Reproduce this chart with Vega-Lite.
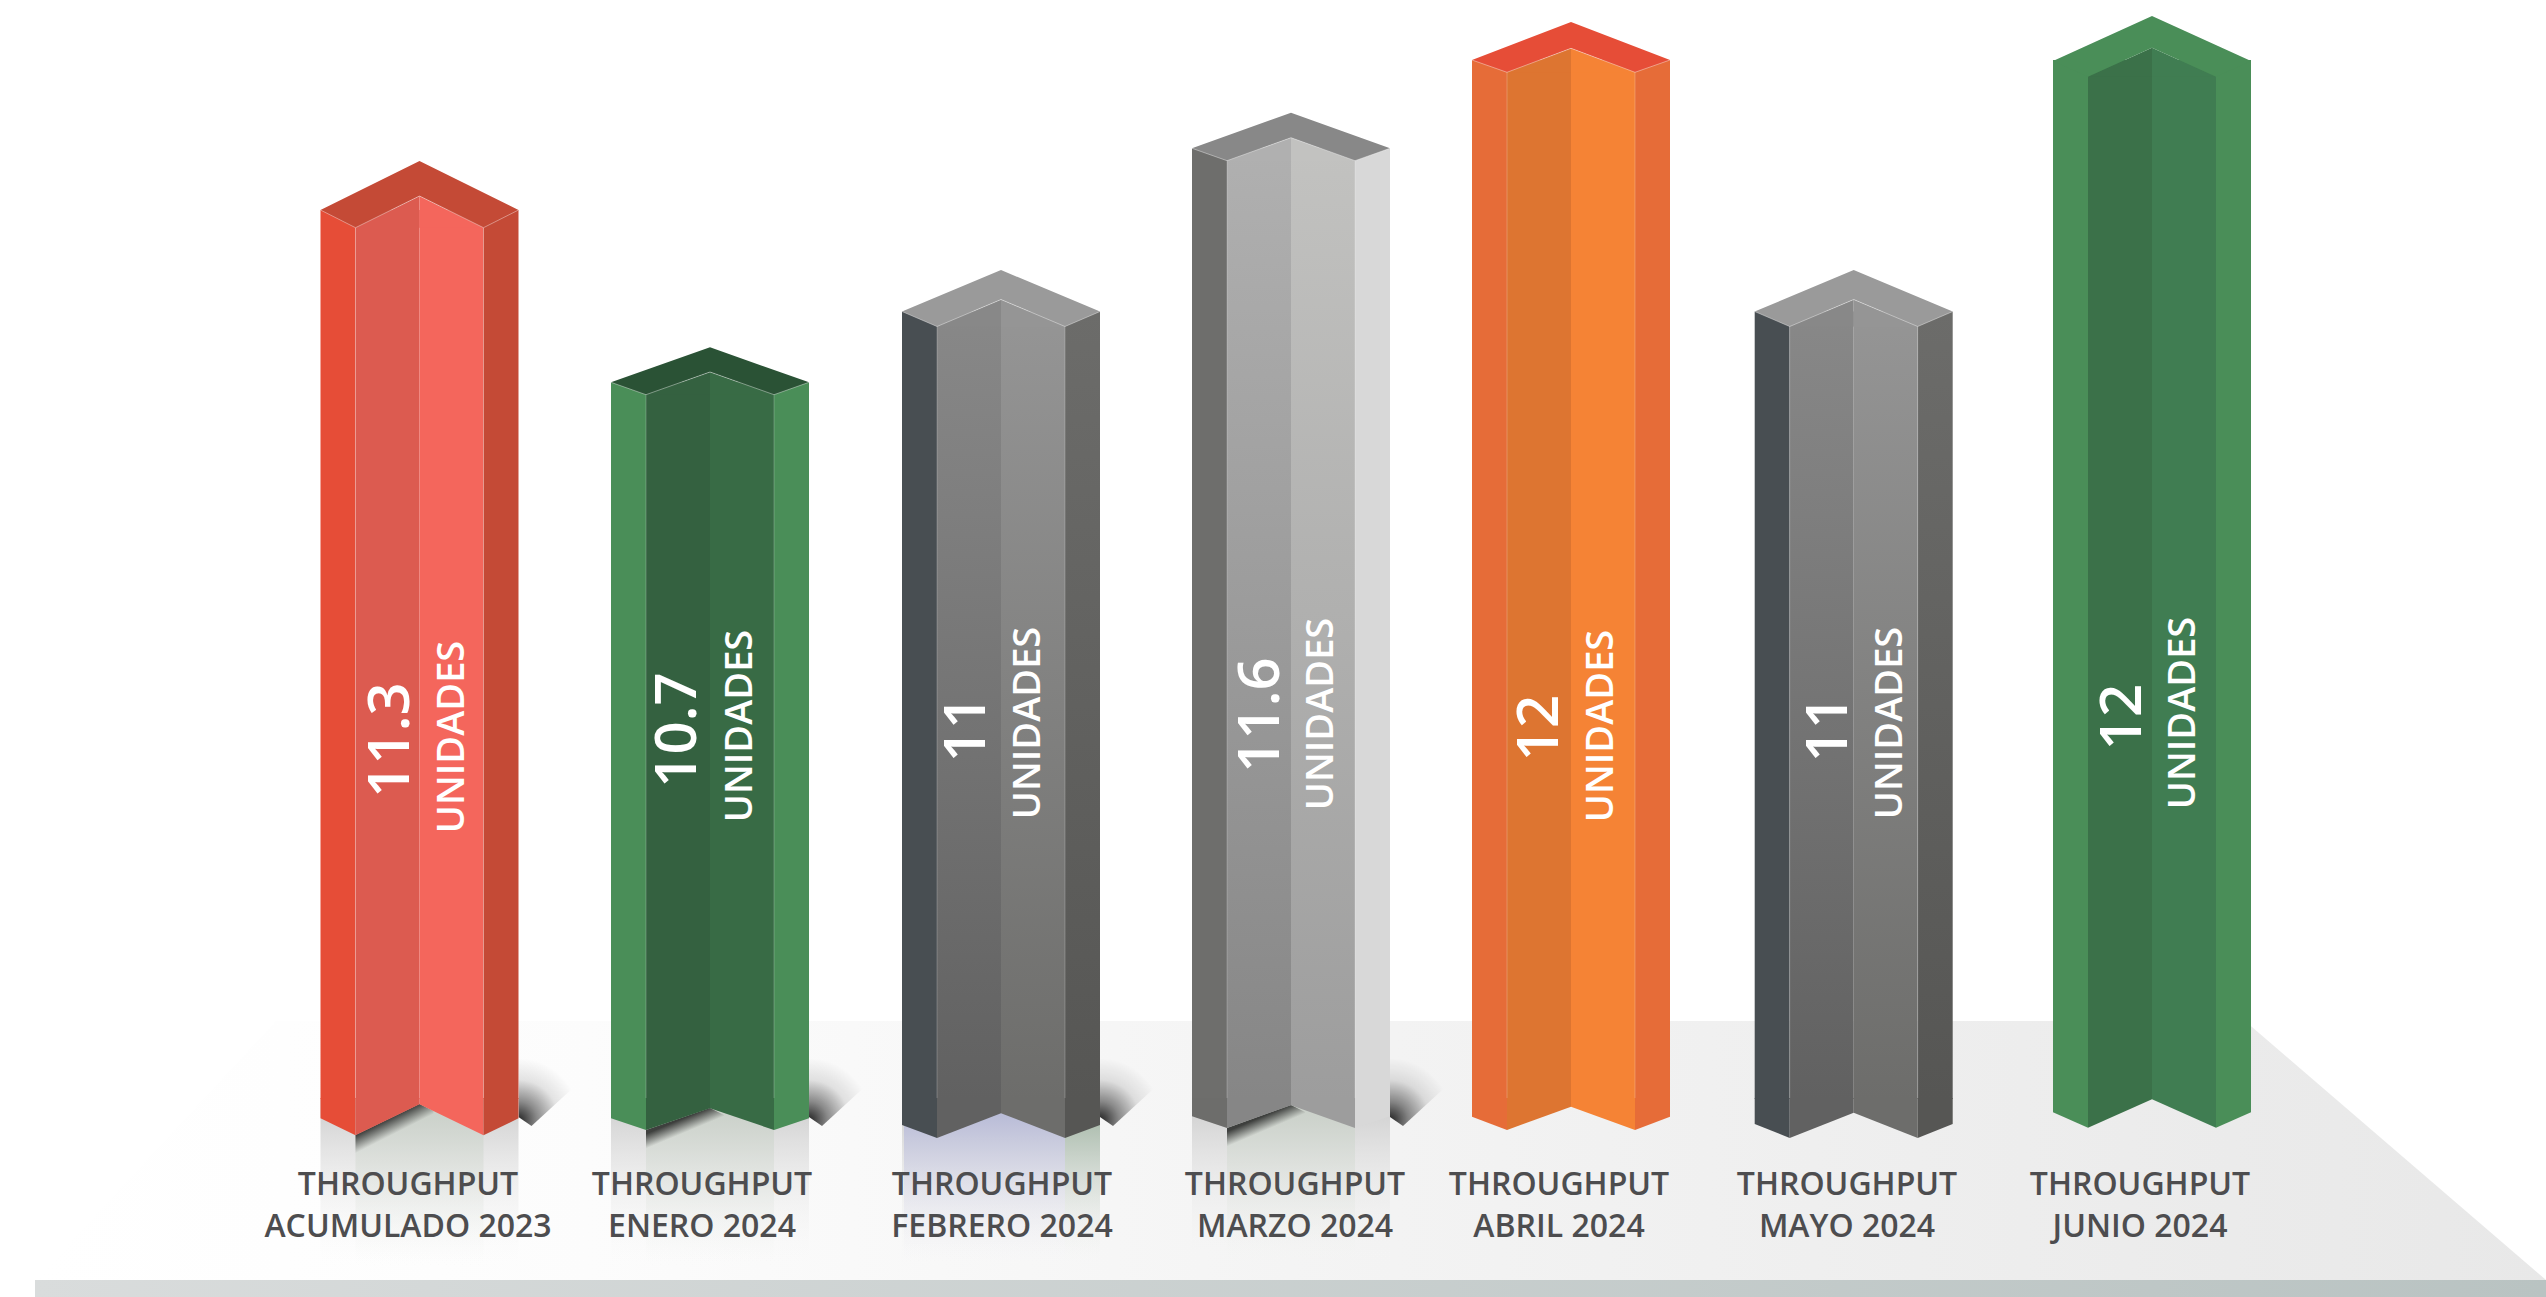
{"$schema":"https://vega.github.io/schema/vega-lite/v6.json","width":2546,"height":1297,"padding":0,"autosize":{"type":"none"},"background":"#ffffff","config":{"view":{"stroke":null}},
"data":{"values":[
{"orden":1,"periodo":"ACUMULADO 2023","unidades":11.3,"etiqueta":"THROUGHPUT\nACUMULADO 2023"},
{"orden":2,"periodo":"ENERO 2024","unidades":10.7,"etiqueta":"THROUGHPUT\nENERO 2024"},
{"orden":3,"periodo":"FEBRERO 2024","unidades":11,"etiqueta":"THROUGHPUT\nFEBRERO 2024"},
{"orden":4,"periodo":"MARZO 2024","unidades":11.6,"etiqueta":"THROUGHPUT\nMARZO 2024"},
{"orden":5,"periodo":"ABRIL 2024","unidades":12,"etiqueta":"THROUGHPUT\nABRIL 2024"},
{"orden":6,"periodo":"MAYO 2024","unidades":11,"etiqueta":"THROUGHPUT\nMAYO 2024"},
{"orden":7,"periodo":"JUNIO 2024","unidades":12,"etiqueta":"THROUGHPUT\nJUNIO 2024"}]},
"resolve":{"scale":{"x":"independent","y":"independent"}},
"layer":[
{"resolve":{"scale":{"shape":"independent","fill":"independent"}},
"encoding":{"x":{"field":"orden","type":"quantitative","axis":null,"scale":{"domain":[1,2,3,4,5,6,7],"range":[419.5,710,1001,1291,1571,1853.7,2152],"nice":false,"zero":false,"padding":0}},
"y":{"field":"unidades","type":"quantitative","axis":null,"scale":{"domain":[0,10.7,11,11.3,11.6,12],"range":[1099,382.3,311.5,210,148.3,60],"nice":false,"zero":false}}},
"layer":[
{"transform":[{"filter":"datum.orden==4"}],"mark":{"type":"point","shape":"M-1015,-78L954,-78L1255,181L-1256,181Z","size":4,"filled":true,"opacity":1,"strokeWidth":0,"fill":{"gradient":"linear","x1":0,"y1":0,"x2":1,"y2":0,"stops":[{"offset":0,"color":"#ffffff"},{"offset":0.1,"color":"#fefefe"},{"offset":0.22,"color":"#fcfcfc"},{"offset":0.5,"color":"#f4f4f4"},{"offset":1,"color":"#e8e8e8"}]}},"encoding":{"y":{"datum":0,"type":"quantitative"}}},
{"transform":[{"filter":"datum.orden==4"}],"mark":{"type":"point","shape":"M-1256,181L1255,181L1255,198L-1256,198Z","size":4,"filled":true,"opacity":1,"strokeWidth":0,"fill":{"gradient":"linear","x1":0,"y1":0,"x2":1,"y2":0,"stops":[{"offset":0,"color":"#d9dcdc"},{"offset":1,"color":"#b9c3c2"}]}},"encoding":{"y":{"datum":0,"type":"quantitative"}}},
{"transform":[{"filter":"datum.orden<=4"}],"mark":{"type":"point","shape":"M-99,0L99,0L99,166L-99,166Z","size":4,"filled":true,"opacity":1,"strokeWidth":0,"fill":{"gradient":"linear","x1":0,"y1":0,"x2":0,"y2":1,"stops":[{"offset":0.1,"color":"rgba(212,212,212,1)"},{"offset":1,"color":"rgba(248,248,248,0)"}]}},"encoding":{"y":{"datum":0,"type":"quantitative"}}},
{"transform":[{"filter":"datum.orden==1||datum.orden==2||datum.orden==4"}],"mark":{"type":"point","shape":"M-64,0L64,0L64,166L-64,166Z","size":4,"filled":true,"opacity":1,"strokeWidth":0,"fill":{"gradient":"linear","x1":0,"y1":0,"x2":0,"y2":1,"stops":[{"offset":0.1,"color":"rgba(204,210,203,1)"},{"offset":1,"color":"rgba(244,246,243,0)"}]}},"encoding":{"y":{"datum":0,"type":"quantitative"}}},
{"transform":[{"filter":"datum.orden==3"}],"mark":{"type":"point","shape":"M-97,0L64,0L64,166L-97,166Z","size":4,"filled":true,"opacity":1,"strokeWidth":0,"fill":{"gradient":"linear","x1":0,"y1":0,"x2":0,"y2":1,"stops":[{"offset":0.1,"color":"rgba(186,189,216,1)"},{"offset":1,"color":"rgba(244,243,247,0)"}]}},"encoding":{"y":{"datum":0,"type":"quantitative"}}},
{"transform":[{"filter":"datum.orden==3"}],"mark":{"type":"point","shape":"M64,0L99,0L99,166L64,166Z","size":4,"filled":true,"opacity":1,"strokeWidth":0,"fill":{"gradient":"linear","x1":0,"y1":0,"x2":0,"y2":1,"stops":[{"offset":0.1,"color":"rgba(169,187,171,1)"},{"offset":1,"color":"rgba(244,246,243,0)"}]}},"encoding":{"y":{"datum":0,"type":"quantitative"}}},
{"transform":[{"filter":"datum.orden<=4"}],"mark":{"type":"point","shape":"M99,-40L99,18L112,27L185,-40Z","size":4,"filled":true,"opacity":1,"strokeWidth":0,"fill":{"gradient":"radial","x1":0,"y1":0.82,"r1":0,"x2":0,"y2":0.82,"r2":0.72,"stops":[{"offset":0,"color":"rgba(0,0,0,0.85)"},{"offset":0.3,"color":"rgba(0,0,0,0.45)"},{"offset":0.65,"color":"rgba(0,0,0,0.1)"},{"offset":1,"color":"rgba(0,0,0,0)"}]}},"encoding":{"y":{"datum":0,"type":"quantitative"}}},
{"transform":[{"filter":"datum.orden==1||datum.orden==2||datum.orden==4"}],"mark":{"type":"point","size":4,"filled":true,"opacity":1,"strokeWidth":0,"fill":{"gradient":"linear","x1":0.41,"y1":0.3,"x2":0.58,"y2":0.52,"stops":[{"offset":0,"color":"rgba(0,0,0,0.7)"},{"offset":1,"color":"rgba(0,0,0,0)"}]}},"encoding":{"y":{"datum":0,"type":"quantitative"},"shape":{"field":"orden","type":"ordinal","legend":null,"scale":{"range":["M-64,36L0,5L14,12L14,30L-64,56Z","M-64,31L0,9L14,16L14,32L-64,51Z","M-64,29L0,6L14,13L14,29L-64,49Z"]}}}},
{"mark":{"type":"bar","orient":"vertical","width":35,"xOffset":-81.5},"encoding":{"y2":{"datum":0},"fill":{"field":"orden","type":"ordinal","legend":null,"scale":{"range":["#e64d37","#4a8e58","#484e52","#6e6e6c","#e66c38","#484e52","#4a8e58"]}}}},
{"transform":[{"filter":"datum.orden==1||datum.orden==2||datum.orden==5||datum.orden==7"}],"mark":{"type":"bar","orient":"vertical","width":64,"xOffset":-32},"encoding":{"y2":{"datum":0},"fill":{"field":"orden","type":"ordinal","legend":null,"scale":{"range":["#dc5b50","#346140","#dd7531","#3b7149"]}}}},
{"transform":[{"filter":"datum.orden==3||datum.orden==6"}],"mark":{"type":"bar","orient":"vertical","width":64,"xOffset":-32,"fill":{"gradient":"linear","x1":0,"y1":0,"x2":0,"y2":1,"stops":[{"offset":0,"color":"#888888"},{"offset":1,"color":"#616161"}]}},"encoding":{"y2":{"datum":0}}},
{"transform":[{"filter":"datum.orden==4"}],"mark":{"type":"bar","orient":"vertical","width":64,"xOffset":-32,"fill":{"gradient":"linear","x1":0,"y1":0,"x2":0,"y2":1,"stops":[{"offset":0,"color":"#b0b0b0"},{"offset":1,"color":"#868686"}]}},"encoding":{"y2":{"datum":0}}},
{"transform":[{"filter":"datum.orden==1||datum.orden==2||datum.orden==5||datum.orden==7"}],"mark":{"type":"bar","orient":"vertical","width":64,"xOffset":32},"encoding":{"y2":{"datum":0},"fill":{"field":"orden","type":"ordinal","legend":null,"scale":{"range":["#f4665c","#386b45","#f58335","#407d52"]}}}},
{"transform":[{"filter":"datum.orden==3||datum.orden==6"}],"mark":{"type":"bar","orient":"vertical","width":64,"xOffset":32,"fill":{"gradient":"linear","x1":0,"y1":0,"x2":0,"y2":1,"stops":[{"offset":0,"color":"#959595"},{"offset":1,"color":"#6d6d6b"}]}},"encoding":{"y2":{"datum":0}}},
{"transform":[{"filter":"datum.orden==4"}],"mark":{"type":"bar","orient":"vertical","width":64,"xOffset":32,"fill":{"gradient":"linear","x1":0,"y1":0,"x2":0,"y2":1,"stops":[{"offset":0,"color":"#c2c2c0"},{"offset":1,"color":"#9d9d9d"}]}},"encoding":{"y2":{"datum":0}}},
{"transform":[{"filter":"datum.orden!=3&&datum.orden!=6"}],"mark":{"type":"bar","orient":"vertical","width":35,"xOffset":81.5},"encoding":{"y2":{"datum":0},"fill":{"field":"orden","type":"ordinal","legend":null,"scale":{"range":["#c44a36","#4a8e58","#d8d8d8","#e66c38","#4a8e58"]}}}},
{"transform":[{"filter":"datum.orden==3||datum.orden==6"}],"mark":{"type":"bar","orient":"vertical","width":35,"xOffset":81.5,"fill":{"gradient":"linear","x1":0,"y1":0,"x2":0,"y2":1,"stops":[{"offset":0,"color":"#6c6c6a"},{"offset":1,"color":"#565654"}]}},"encoding":{"y2":{"datum":0}}},
{"transform":[{"filter":"datum.orden!=7"}],"mark":{"type":"rule","xOffset":-64,"stroke":"#ffffff","strokeWidth":1,"opacity":0.22},"encoding":{"y2":{"datum":0}}},
{"transform":[{"filter":"datum.orden!=7"}],"mark":{"type":"rule","xOffset":64,"stroke":"#ffffff","strokeWidth":1,"opacity":0.22},"encoding":{"y2":{"datum":0}}},
{"mark":{"type":"point","size":4,"filled":true,"opacity":1,"strokeWidth":0},"encoding":{"shape":{"field":"orden","type":"ordinal","legend":null,"scale":{"range":["M-64,17.7L0,-14L0,17.7Z","M-64,12.4L0,-10.3L0,12.4Z","M-64,15L0,-12L0,15Z","M-64,12.4L0,-10.6L0,12.4Z","M-64,12.3L0,-11.7L0,12.3Z","M-64,15L0,-12L0,15Z","M-64,16.7L0,-12.3L0,16.7Z"]}},"fill":{"field":"orden","type":"ordinal","legend":null,"scale":{"range":["#dc5b50","#346140","#888888","#b0b0b0","#dd7531","#888888","#3b7149"]}}}},
{"mark":{"type":"point","size":4,"filled":true,"opacity":1,"strokeWidth":0},"encoding":{"shape":{"field":"orden","type":"ordinal","legend":null,"scale":{"range":["M64,17.7L0,-14L0,17.7Z","M64,12.4L0,-10.3L0,12.4Z","M64,15L0,-12L0,15Z","M64,12.4L0,-10.6L0,12.4Z","M64,12.3L0,-11.7L0,12.3Z","M64,15L0,-12L0,15Z","M64,16.7L0,-12.3L0,16.7Z"]}},"fill":{"field":"orden","type":"ordinal","legend":null,"scale":{"range":["#f4665c","#386b45","#959595","#c2c2c0","#f58335","#959595","#407d52"]}}}},
{"mark":{"type":"point","size":4,"filled":true,"opacity":1,"strokeWidth":0},"encoding":{"y":{"datum":0,"type":"quantitative"},"shape":{"field":"orden","type":"ordinal","legend":null,"scale":{"range":["M-99,-1L-99,19.3L-64,36.3L-64,-1Z","M-99,-1L-99,19.3L-64,31L-64,-1Z","M-99,-1L-99,26L-64,39L-64,-1Z","M-99,-1L-99,17.3L-64,29L-64,-1Z","M-99,-1L-99,17.7L-64,31L-64,-1Z","M-99,-1L-99,25L-64,39L-64,-1Z","M-99,-1L-99,13.3L-64,28.7L-64,-1Z"]}},"fill":{"field":"orden","type":"ordinal","legend":null,"scale":{"range":["#e64d37","#4a8e58","#484e52","#6d6d6b","#e66c38","#484e52","#4a8e58"]}}}},
{"mark":{"type":"point","size":4,"filled":true,"opacity":1,"strokeWidth":0},"encoding":{"y":{"datum":0,"type":"quantitative"},"shape":{"field":"orden","type":"ordinal","legend":null,"scale":{"range":["M-64,-1L-64,36.3L0,5.3L0,-1Z","M-64,-1L-64,31L0,9.3L0,-1Z","M-64,-1L-64,39L0,14.3L0,-1Z","M-64,-1L-64,29L0,6.3L0,-1Z","M-64,-1L-64,31L0,7.7L0,-1Z","M-64,-1L-64,39L0,13.7L0,-1Z","M-64,-1L-64,28.7L0,0.3L0,-1Z"]}},"fill":{"field":"orden","type":"ordinal","legend":null,"scale":{"range":["#dc5b50","#346140","#616161","#868686","#dd7531","#616161","#3b7149"]}}}},
{"mark":{"type":"point","size":4,"filled":true,"opacity":1,"strokeWidth":0},"encoding":{"y":{"datum":0,"type":"quantitative"},"shape":{"field":"orden","type":"ordinal","legend":null,"scale":{"range":["M64,-1L64,36.3L0,5.3L0,-1Z","M64,-1L64,31L0,9.3L0,-1Z","M64,-1L64,39L0,14.3L0,-1Z","M64,-1L64,29L0,6.3L0,-1Z","M64,-1L64,31L0,7.7L0,-1Z","M64,-1L64,39L0,13.7L0,-1Z","M64,-1L64,28.7L0,0.3L0,-1Z"]}},"fill":{"field":"orden","type":"ordinal","legend":null,"scale":{"range":["#f4665c","#386b45","#6d6d6b","#9d9d9d","#f58335","#6d6d6b","#407d52"]}}}},
{"mark":{"type":"point","size":4,"filled":true,"opacity":1,"strokeWidth":0},"encoding":{"y":{"datum":0,"type":"quantitative"},"shape":{"field":"orden","type":"ordinal","legend":null,"scale":{"range":["M99,-1L99,19.3L64,36.3L64,-1Z","M99,-1L99,19.3L64,31L64,-1Z","M99,-1L99,26L64,39L64,-1Z","M99,-1L99,17.3L64,29L64,-1Z","M99,-1L99,17.7L64,31L64,-1Z","M99,-1L99,25L64,39L64,-1Z","M99,-1L99,13.3L64,28.7L64,-1Z"]}},"fill":{"field":"orden","type":"ordinal","legend":null,"scale":{"range":["#c44a36","#4a8e58","#565654","#d8d8d8","#e66c38","#565654","#4a8e58"]}}}},
{"mark":{"type":"point","size":4,"filled":true,"opacity":1,"strokeWidth":0},"encoding":{"shape":{"field":"orden","type":"ordinal","legend":null,"scale":{"range":["M-99,0L0,-49L99,0L64,17.7L0,-14L-64,17.7Z","M-99,0L0,-35L99,0L64,12.4L0,-10.3L-64,12.4Z","M-99,0L0,-41.5L99,0L64,15L0,-12L-64,15Z","M-99,0L0,-35.6L99,0L64,12.4L0,-10.6L-64,12.4Z","M-99,0L0,-38L99,0L64,12.3L0,-11.7L-64,12.3Z","M-99,0L0,-41.5L99,0L64,15L0,-12L-64,15Z","M-99,1L0,-44L99,1L64,16.7L0,-12.3L-64,16.7Z"]}},"fill":{"field":"orden","type":"ordinal","legend":null,"scale":{"range":["#c44a36","#2a5235","#9a9a9a","#888888","#e64d37","#9a9a9a","#4a8e58"]}}}},
{"transform":[{"filter":"datum.orden!=7"}],"mark":{"type":"point","size":4,"filled":false,"opacity":0.4,"strokeWidth":1,"stroke":"#ffffff"},"encoding":{"shape":{"field":"orden","type":"ordinal","legend":null,"scale":{"range":["M-99,0L-64,17.7L0,-14L64,17.7L99,0","M-99,0L-64,12.4L0,-10.3L64,12.4L99,0","M-99,0L-64,15L0,-12L64,15L99,0","M-99,0L-64,12.4L0,-10.6L64,12.4L99,0","M-99,0L-64,12.3L0,-11.7L64,12.3L99,0","M-99,0L-64,15L0,-12L64,15L99,0"]}}}}
]},
{"mark":{"type":"text","angle":270,"align":"center","baseline":"alphabetic","font":"Open Sans","fontWeight":600,"fontSize":58,"fill":"#ffffff"},"encoding":{"x":{"field":"orden","type":"quantitative","axis":null,"scale":{"domain":[1,2,3,4,5,6,7],"range":[409,696,985,1279,1558,1847,2141],"nice":false,"zero":false}},"y":{"field":"orden","type":"quantitative","axis":null,"scale":{"domain":[1,2,3,4,5,6,7],"range":[740,730,729,715,728,729,717],"nice":false,"zero":false}},"text":{"field":"unidades","type":"quantitative","format":"~g"}}},
{"mark":{"type":"text","angle":270,"align":"center","baseline":"alphabetic","font":"Open Sans","fontWeight":600,"fontSize":38,"fill":"#ffffff","text":"UNIDADES"},"encoding":{"x":{"field":"orden","type":"quantitative","axis":null,"scale":{"domain":[1,2,3,4,5,6,7],"range":[464,752,1040,1333,1613,1902,2195],"nice":false,"zero":false}},"y":{"field":"orden","type":"quantitative","axis":null,"scale":{"domain":[1,2,3,4,5,6,7],"range":[737,726,723,714,726,723,713],"nice":false,"zero":false}}}},
{"mark":{"type":"text","align":"center","baseline":"alphabetic","font":"Open Sans","fontWeight":600,"fontSize":32,"fill":"#4d4d4f","lineBreak":"\n","lineHeight":42},"encoding":{"x":{"field":"orden","type":"quantitative","axis":null,"scale":{"domain":[1,2,3,4,5,6,7],"range":[408,702,1002,1295,1559,1847,2140],"nice":false,"zero":false}},"y":{"field":"orden","type":"quantitative","axis":null,"scale":{"domain":[1,7],"range":[1195,1195],"nice":false,"zero":false}},"text":{"field":"etiqueta","type":"nominal"}}}
]}
